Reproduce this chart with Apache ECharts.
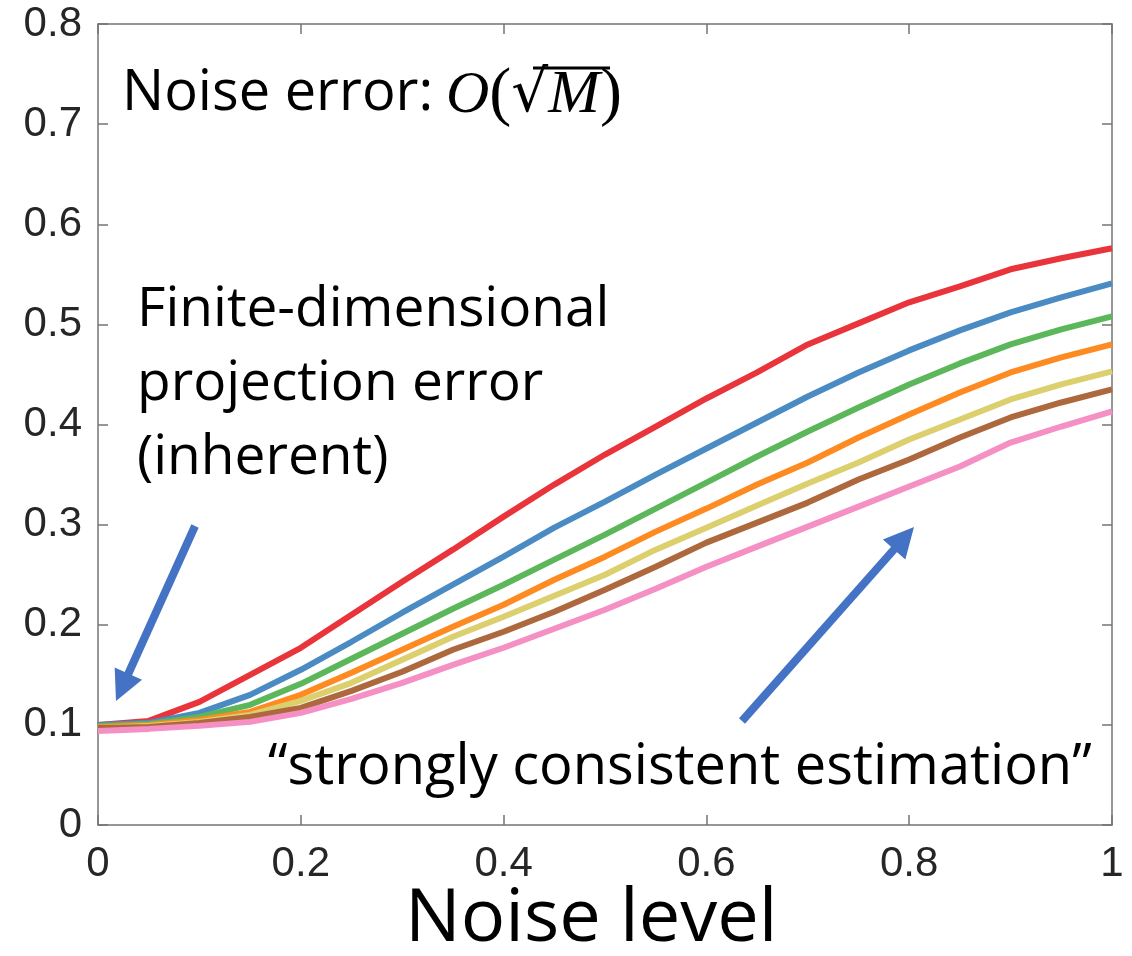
<!DOCTYPE html>
<html>
<head>
<meta charset="utf-8">
<script src="https://cdn.jsdelivr.net/npm/echarts@6/dist/echarts.min.js"></script>
<style>
  html, body { margin: 0; padding: 0; background: #fff; }
  #chart { width: 1132px; height: 956px; }
</style>
</head>
<body>
<div id="chart"></div>
<script>
// Noise level samples (x axis)
const noiseLevels = [0, 0.05, 0.1, 0.15, 0.2, 0.25, 0.3, 0.35, 0.4, 0.45, 0.5,
                     0.55, 0.6, 0.65, 0.7, 0.75, 0.8, 0.85, 0.9, 0.95, 1.0];

// Error curves, one per model size (top to bottom)
const errRed    = [0.100, 0.104, 0.123, 0.150, 0.177, 0.210, 0.243, 0.275, 0.308, 0.340, 0.370,
                   0.398, 0.426, 0.452, 0.480, 0.501, 0.522, 0.538, 0.555, 0.566, 0.576];
const errBlue   = [0.100, 0.102, 0.112, 0.130, 0.155, 0.183, 0.212, 0.240, 0.268, 0.297, 0.323,
                   0.350, 0.376, 0.402, 0.428, 0.452, 0.474, 0.494, 0.512, 0.527, 0.541];
const errGreen  = [0.099, 0.101, 0.108, 0.120, 0.141, 0.166, 0.191, 0.216, 0.240, 0.265, 0.290,
                   0.316, 0.342, 0.368, 0.393, 0.417, 0.440, 0.461, 0.480, 0.495, 0.508];
const errOrange = [0.098, 0.100, 0.105, 0.113, 0.130, 0.152, 0.175, 0.198, 0.220, 0.245, 0.268,
                   0.293, 0.316, 0.340, 0.362, 0.387, 0.410, 0.432, 0.452, 0.467, 0.480];
const errYellow = [0.097, 0.099, 0.103, 0.110, 0.124, 0.142, 0.165, 0.188, 0.208, 0.229, 0.250,
                   0.275, 0.297, 0.319, 0.341, 0.362, 0.385, 0.405, 0.425, 0.440, 0.453];
const errBrown  = [0.097, 0.098, 0.102, 0.108, 0.117, 0.134, 0.153, 0.175, 0.193, 0.213, 0.235,
                   0.258, 0.282, 0.302, 0.322, 0.345, 0.365, 0.387, 0.407, 0.422, 0.435];
const errPink   = [0.094, 0.096, 0.099, 0.103, 0.112, 0.126, 0.142, 0.160, 0.177, 0.196, 0.215,
                   0.236, 0.258, 0.278, 0.298, 0.318, 0.338, 0.358, 0.382, 0.398, 0.413];

const curves = [
  { name: 'red',    color: '#e8343a', values: errRed },
  { name: 'blue',   color: '#4b8bc3', values: errBlue },
  { name: 'green',  color: '#5cb65a', values: errGreen },
  { name: 'orange', color: '#fd8b22', values: errOrange },
  { name: 'yellow', color: '#dccf6d', values: errYellow },
  { name: 'brown',  color: '#ad693d', values: errBrown },
  { name: 'pink',   color: '#f590c5', values: errPink }
];

const chart = echarts.init(document.getElementById('chart'), null, { renderer: 'canvas' });

const frameColor = '#747474';
const tickFont = 'Liberation Sans';
const arrowBlue = '#4472c4';

// Arrow built from a tail and a tip point
function arrow(x1, y1, x2, y2, width, headLen, headHalf) {
  const dx = x2 - x1, dy = y2 - y1;
  const len = Math.sqrt(dx * dx + dy * dy);
  const ux = dx / len, uy = dy / len;
  const px = -uy, py = ux;
  const bx = x2 - ux * headLen, by = y2 - uy * headLen;
  return [
    { type: 'line', silent: true,
      shape: { x1: x1, y1: y1, x2: bx + ux * 2, y2: by + uy * 2 },
      style: { stroke: arrowBlue, lineWidth: width } },
    { type: 'polygon', silent: true,
      shape: { points: [[x2, y2], [bx + px * headHalf, by + py * headHalf], [bx - px * headHalf, by - py * headHalf]] },
      style: { fill: arrowBlue } }
  ];
}

const boxAxisCommon = {
  type: 'value',
  min: 0,
  splitLine: { show: false },
  axisLine: { show: true, onZero: false, lineStyle: { color: frameColor, width: 1.5 } },
  axisTick: { show: true, inside: true, length: 10, lineStyle: { color: frameColor, width: 1.5 } }
};

const option = {
  animation: false,
  backgroundColor: '#ffffff',
  grid: { left: 98, right: 20, top: 24, bottom: 131, containLabel: false },
  xAxis: [
    Object.assign({}, boxAxisCommon, {
      position: 'bottom', max: 1, interval: 0.2,
      axisLabel: { show: true, margin: 18, fontFamily: tickFont, fontSize: 42, color: '#262626' }
    }),
    Object.assign({}, boxAxisCommon, {
      position: 'top', max: 1, interval: 0.2,
      axisLabel: { show: false }
    })
  ],
  yAxis: [
    Object.assign({}, boxAxisCommon, {
      position: 'left', max: 0.8, interval: 0.1,
      axisLabel: { show: true, margin: 16, fontFamily: tickFont, fontSize: 42, color: '#262626' }
    }),
    Object.assign({}, boxAxisCommon, {
      position: 'right', max: 0.8, interval: 0.1,
      axisLabel: { show: false }
    })
  ],
  series: curves.map(c => ({
    name: c.name,
    type: 'line',
    xAxisIndex: 0,
    yAxisIndex: 0,
    showSymbol: false,
    symbol: 'none',
    smooth: false,
    lineStyle: { color: c.color, width: 6 },
    data: noiseLevels.map((x, i) => [x, c.values[i]])
  })),
  graphic: [
    { type: 'text', silent: true, x: 122, y: 94,
      style: { text: 'Noise error:', font: '56px "Open Sans"', fill: '#000', verticalAlign: 'middle' } },
    { type: 'text', silent: true, x: 446, y: 96,
      style: {
        text: '{o|O}{p|(}{r|√}{m|M}{p|)}',
        verticalAlign: 'middle',
        rich: {
          o: { font: 'italic 60px "Liberation Serif"', fill: '#000' },
          p: { font: '66px "Liberation Serif"', fill: '#000' },
          r: { font: '58px "DejaVu Serif"', fill: '#000' },
          m: { font: 'italic 62px "Liberation Serif"', fill: '#000' }
        }
      } },
    { type: 'line', silent: true, shape: { x1: 533, y1: 68, x2: 610, y2: 68 },
      style: { stroke: '#000', lineWidth: 3 } },

    { type: 'text', silent: true, x: 137, y: 310,
      style: { text: 'Finite-dimensional', font: '55px "Open Sans"', fill: '#000', verticalAlign: 'middle' } },
    { type: 'text', silent: true, x: 137, y: 384,
      style: { text: 'projection error', font: '55px "Open Sans"', fill: '#000', verticalAlign: 'middle' } },
    { type: 'text', silent: true, x: 137, y: 458,
      style: { text: '(inherent)', font: '55px "Open Sans"', fill: '#000', verticalAlign: 'middle' } },

    { type: 'text', silent: true, x: 268, y: 768,
      style: { text: '\u201Cstrongly consistent estimation\u201D', font: '56px "Open Sans"', fill: '#000', verticalAlign: 'middle' } },

    { type: 'text', silent: true, x: 405, y: 920,
      style: { text: 'Noise level', font: '74px "Open Sans"', fill: '#000', verticalAlign: 'middle' } }
  ]
    .concat(arrow(195, 526, 116, 701, 8, 30, 15))
    .concat(arrow(742, 721, 914, 527, 8, 30, 15))
};

chart.setOption(option);
</script>
</body>
</html>
